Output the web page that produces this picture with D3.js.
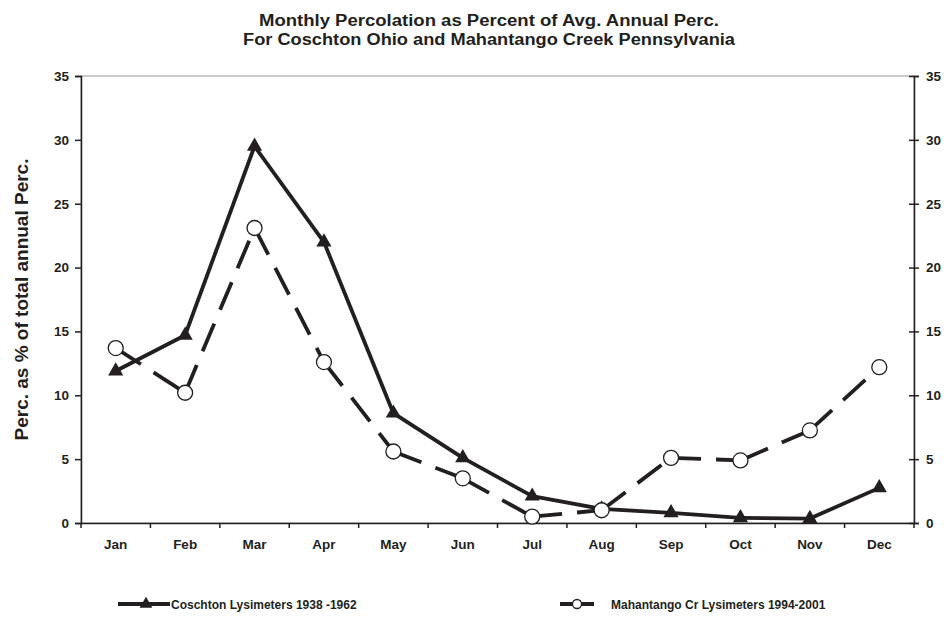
<!DOCTYPE html>
<html><head><meta charset="utf-8">
<script src="https://cdn.jsdelivr.net/npm/d3@7"></script>
<style>body{margin:0;background:#fff}svg{display:block}text{font-family:"Liberation Sans",Arial,sans-serif;font-weight:bold;fill:#231f20}</style>
</head><body><svg id="c" width="947" height="624"></svg>
<script>
const months = ["Jan","Feb","Mar","Apr","May","Jun","Jul","Aug","Sep","Oct","Nov","Dec"];
const coschton = [11.9,14.7,29.5,22.0,8.6,5.1,2.1,1.1,0.8,0.4,0.35,2.75];
const mahantango = [13.7,10.2,23.1,12.6,5.6,3.5,0.5,1.0,5.1,4.9,7.25,12.2];
const yTicks = [0,5,10,15,20,25,30,35];
const titleLines = ["Monthly Percolation as Percent of Avg. Annual Perc.","For Coschton Ohio and Mahantango Creek Pennsylvania"];
const yTitle = "Perc. as % of total annual Perc.";
const legendNames = ["Coschton Lysimeters 1938 -1962","Mahantango Cr Lysimeters 1994-2001"];

const svg = d3.select("#c");
const L=81, R=914, T=76, B=523;
const x = d3.scaleBand().domain(months).range([L,R]);
const y = d3.scaleLinear().domain([0,35]).range([B,T]);
const ink="#231f20";

svg.append("rect").attr("x",L).attr("y",T).attr("width",R-L).attr("height",B-T)
  .attr("fill","none").attr("stroke","#999").attr("stroke-width",1);

const gl = svg.append("g").attr("transform",`translate(${L},0)`)
  .call(d3.axisLeft(y).tickValues(yTicks).tickSize(6).tickPadding(6));
const gr = svg.append("g").attr("transform",`translate(${R},0)`)
  .call(d3.axisRight(y).tickValues(yTicks).tickSize(5).tickPadding(7));
gr.selectAll(".tick line").attr("x1",-5).attr("x2",5);
const gb = svg.append("g").attr("transform",`translate(0,${B})`)
  .call(d3.axisBottom(x).tickSize(0).tickPadding(16));
gb.selectAll(".tick").append("line").attr("x1",x.bandwidth()/2).attr("x2",x.bandwidth()/2)
  .attr("y1",0).attr("y2",5);
gb.append("line").attr("x1",L).attr("x2",L).attr("y1",0).attr("y2",5);
[gl,gr,gb].forEach(g=>{
  g.selectAll(".domain").attr("stroke",ink).attr("stroke-width",1.5);
  g.selectAll("line").attr("stroke",ink).attr("stroke-width",1.5);
  g.selectAll("text").attr("font-size",13.5).attr("font-weight","bold")
   .attr("font-family","Liberation Sans, Arial, sans-serif").attr("fill",ink);
});

svg.append("text").attr("x",489).attr("y",26).attr("text-anchor","middle").attr("font-size",16)
  .attr("textLength",460).attr("lengthAdjust","spacingAndGlyphs").text(titleLines[0]);
svg.append("text").attr("x",489).attr("y",45).attr("text-anchor","middle").attr("font-size",16)
  .attr("textLength",492).attr("lengthAdjust","spacingAndGlyphs").text(titleLines[1]);
svg.append("text").attr("transform",`translate(28,${(T+B)/2}) rotate(-90)`).attr("text-anchor","middle")
  .attr("font-size",19).text(yTitle);

const cx = m => x(m)+x.bandwidth()/2;
const line = d3.line().x(d=>cx(d.m)).y(d=>y(d.v));
const tri = d3.symbol().type(d3.symbolTriangle).size(100);

function drawSeries(vals, dashed, marker){
  const pts = vals.map((v,i)=>({m:months[i],v}));
  const g = svg.append("g");
  for(let i=0;i<pts.length-1;i++){
    g.append("path").attr("d",line([pts[i],pts[i+1]])).attr("fill","none")
      .attr("stroke",ink).attr("stroke-width",3.8)
      .attr("stroke-dasharray",dashed?"30,15":null);
  }
  pts.forEach(p=>{
    if(marker==="tri"){
      g.append("path").attr("d",tri).attr("transform",`translate(${cx(p.m)},${y(p.v)})`).attr("fill",ink);
    } else {
      g.append("circle").attr("cx",cx(p.m)).attr("cy",y(p.v)).attr("r",7.5)
        .attr("fill","#fff").attr("stroke",ink).attr("stroke-width",1.3);
    }
  });
}
drawSeries(coschton,false,"tri");
drawSeries(mahantango,true,"circ");

const lg = svg.append("g");
lg.append("line").attr("x1",118).attr("x2",170).attr("y1",604).attr("y2",604).attr("stroke",ink).attr("stroke-width",4);
lg.append("path").attr("d",d3.symbol().type(d3.symbolTriangle).size(70)).attr("transform","translate(146,604)").attr("fill",ink);
lg.append("text").attr("x",171).attr("y",609).attr("font-size",12).text(legendNames[0]);
lg.append("line").attr("x1",560).attr("x2",594).attr("y1",604).attr("y2",604).attr("stroke",ink).attr("stroke-width",4);
lg.append("circle").attr("cx",577).attr("cy",604).attr("r",4.5).attr("fill","#fff").attr("stroke",ink).attr("stroke-width",1.3);
lg.append("text").attr("x",611).attr("y",609).attr("font-size",12).text(legendNames[1]);
</script></body></html>
